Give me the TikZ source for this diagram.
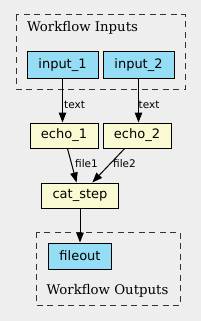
\documentclass[tikz,border=0pt]{standalone}
\usepackage{fontspec}
\setmainfont{DejaVu Serif}
\setsansfont{DejaVu Sans}
\usetikzlibrary{arrows.meta}
\definecolor{bg}{HTML}{EEEEEE}
\definecolor{iofill}{HTML}{94DDF4}
\definecolor{stepfill}{HTML}{FAFAD2}
\tikzset{
  box/.style={draw=black, line width=1pt, inner sep=0pt, font=\sffamily\fontsize{13}{15}\selectfont},
  iobox/.style={box, fill=iofill},
  stepbox/.style={box, fill=stepfill},
  cluster/.style={draw=black!80, line width=1pt, dash pattern=on 6pt off 4.5pt},
  clabel/.style={font=\rmfamily\fontsize{13.3}{15}\selectfont, inner sep=0pt},
  elabel/.style={font=\sffamily\fontsize{10.5}{12}\selectfont, inner sep=0pt, anchor=west},
  edge/.style={line width=1pt, -{Triangle[length=10pt,width=7.5pt]}},
}
\begin{document}
\begin{tikzpicture}[x=1pt,y=-1pt]
\fill[bg] (0,0) rectangle (201,321);
\useasboundingbox (0,0) rectangle (201,321);
\draw[cluster] (16,15) rectangle (185,89);
\node[clabel, anchor=west] (inlabel) at (27,28) {Workflow Inputs};
\draw[cluster] (36,232) rectangle (180,305);
\node[clabel] (outlabel) at (107.5,291) {Workflow Outputs};

\node[iobox, minimum width=71pt, minimum height=26pt] (input1) at (62.5,65) {input\_1};
\node[iobox, minimum width=71pt, minimum height=26pt] (input2) at (138.5,65) {input\_2};
\node[stepbox, minimum width=68pt, minimum height=25pt] (echo1) at (64,135.5) {echo\_1};
\node[stepbox, minimum width=68pt, minimum height=25pt] (echo2) at (137,135.5) {echo\_2};
\node[stepbox, minimum width=77pt, minimum height=25pt] (cat) at (80,195.5) {cat\_step};
\node[iobox, minimum width=63pt, minimum height=26pt] (fileout) at (80,256) {fileout};

\draw[edge] (input1.south) -- (input1.south |- echo1.north);
\draw[edge] (input2.south) -- (input2.south |- echo2.north);
\draw[edge] (echo1) -- (cat);
\draw[edge] (echo2) -- (cat);
\draw[edge] (cat) -- (fileout);

\node[elabel] (l1) at (64,105) {text};
\node[elabel] (l2) at (138.5,105) {text};
\node[elabel] (l3) at (75,164) {file1};
\node[elabel] (l4) at (113,164) {file2};
\end{tikzpicture}
\end{document}
